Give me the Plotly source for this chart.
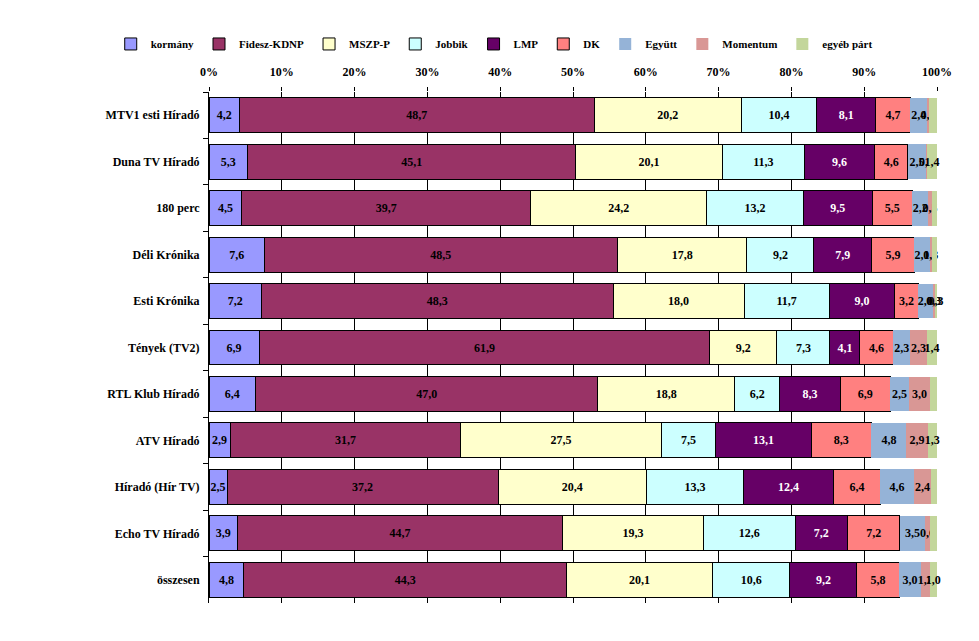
import plotly.graph_objects as go

categories = ["MTV1 esti Híradó", "Duna TV Híradó", "180 perc", "Déli Krónika", "Esti Krónika",
              "Tények (TV2)", "RTL Klub Híradó", "ATV Híradó", "Híradó (Hír TV)", "Echo TV Híradó", "összesen"]

kormany  = [4.2, 5.3, 4.5, 7.6, 7.2, 6.9, 6.4, 2.9, 2.5, 3.9, 4.8]
fidesz   = [48.7, 45.1, 39.7, 48.5, 48.3, 61.9, 47.0, 31.7, 37.2, 44.7, 44.3]
mszp     = [20.2, 20.1, 24.2, 17.8, 18.0, 9.2, 18.8, 27.5, 20.4, 19.3, 20.1]
jobbik   = [10.4, 11.3, 13.2, 9.2, 11.7, 7.3, 6.2, 7.5, 13.3, 12.6, 10.6]
lmp      = [8.1, 9.6, 9.5, 7.9, 9.0, 4.1, 8.3, 13.1, 12.4, 7.2, 9.2]
dk       = [4.7, 4.6, 5.5, 5.9, 3.2, 4.6, 6.9, 8.3, 6.4, 7.2, 5.8]
egyutt   = [2.4, 2.5, 2.2, 2.1, 2.0, 2.3, 2.5, 4.8, 4.6, 3.5, 3.0]
momentum = [0.2, 0.1, 0.5, 0.3, 0.3, 2.3, 3.0, 2.9, 2.4, 0.6, 1.2]
egyeb    = [1.1, 1.4, 0.7, 0.7, 0.3, 1.4, 0.9, 1.3, 0.8, 1.1, 1.0]

x_ticks = [0, 10, 20, 30, 40, 50, 60, 70, 80, 90, 100]

series = [
    ("kormány", kormany, "#9999FF", "black", True),
    ("Fidesz-KDNP", fidesz, "#993366", "black", True),
    ("MSZP-P", mszp, "#FFFFCC", "black", True),
    ("Jobbik", jobbik, "#CCFFFF", "black", True),
    ("LMP", lmp, "#660066", "white", True),
    ("DK", dk, "#FF8080", "black", True),
    ("Együtt", egyutt, "#95B3D7", "black", False),
    ("Momentum", momentum, "#D99795", "black", False),
    ("egyéb párt", egyeb, "#C3D69B", "black", False),
]

FONT = "Liberation Serif"

fig = go.Figure()
for name, vals, color, tcolor, border in series:
    fig.add_trace(go.Bar(
        name=name, y=categories, x=vals, orientation="h",
        marker=dict(color=color, line=dict(color="black" if border else color, width=1 if border else 0)),
        text=[f"{v:.1f}".replace(".", ",") for v in vals],
        textposition="inside", insidetextanchor="middle", textangle=0,
        textfont=dict(family=FONT, size=12, color=tcolor, weight="bold"),
        constraintext="none", cliponaxis=False,
    ))

fig.update_layout(
    barmode="stack", bargap=0.25,
    width=979, height=641,
    margin=dict(l=209, r=42, t=92, b=38, autoexpand=False),
    paper_bgcolor="white", plot_bgcolor="white",
    font=dict(family=FONT, size=12, color="black"),
    uniformtext=dict(minsize=12, mode="show"),
    legend=dict(orientation="h", x=-0.135, xanchor="left",
                y=1.094, yanchor="middle",
                font=dict(family=FONT, size=11, color="black", weight="bold"),
                itemwidth=30, tracegroupgap=0, traceorder="normal"),
    xaxis=dict(side="top", range=[0, 100], tickvals=x_ticks,
               ticktext=[f"{t}%" for t in x_ticks], automargin=False,
               showgrid=True, gridcolor="black", gridwidth=1, zeroline=False,
               showline=False, ticks="outside", ticklen=4, tickcolor="black",
               ticklabelstandoff=6,
               tickfont=dict(family=FONT, size=12, weight="bold")),
    yaxis=dict(autorange="reversed", showline=True, linecolor="black", linewidth=1,
               ticks="outside", tickson="boundaries", ticklen=5, tickcolor="black",
               automargin=False, ticklabelstandoff=6,
               tickfont=dict(family=FONT, size=12, weight="bold"), showgrid=False),
)

fig.write_html("out.html", config={"displayModeBar": False},
               post_script="document.body.style.margin='0';document.body.style.overflow='hidden';")
